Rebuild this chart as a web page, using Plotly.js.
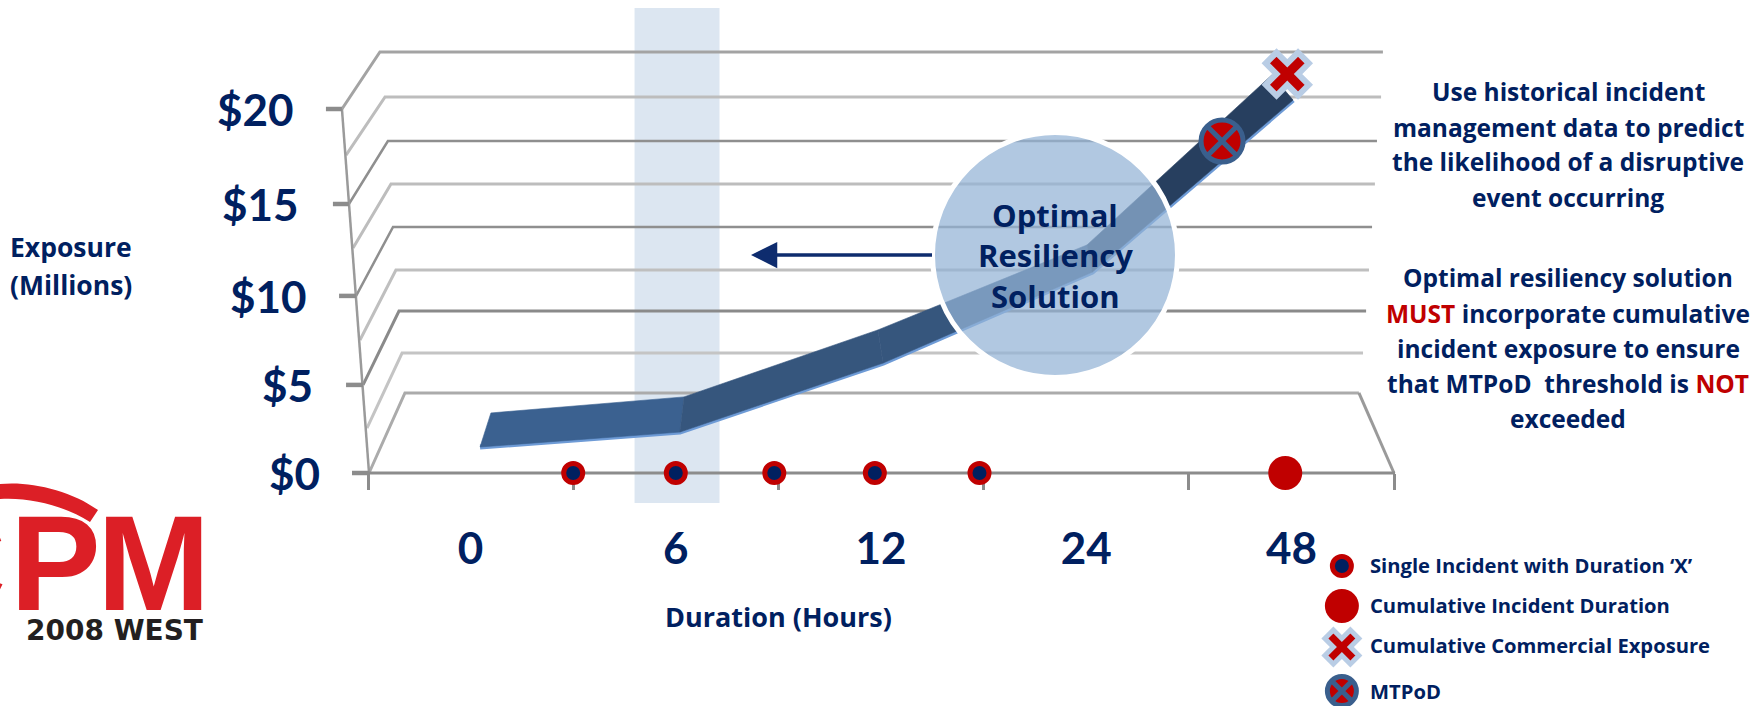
<!DOCTYPE html>
<html>
<head>
<meta charset="utf-8">
<script src="https://cdn.plot.ly/plotly-3.0.1.min.js"></script>
<style>html,body{margin:0;padding:0;background:#fff;overflow:hidden}#chart{width:1757px;height:706px}</style>
</head>
<body>
<div id="chart"></div>
<script>
// Duration axis (evenly spaced categories) and exposure axis
const durationLabels = ['0', '6', '12', '24', '48'];
const durationSlots = [0, 1, 2, 3, 4];
const slotEdges = [-0.5, 0.5, 1.5, 2.5, 3.5, 4.5];
const exposureLabels = ['$0', '$5', '$10', '$15', '$20'];
const exposureLevels = [0, 4.84, 9.73, 14.78, 20];

// Pseudo-3D wall: nine levels running front -> back left -> back right
const wallFrontX = [-0.627, -0.607, -0.593, -0.573, -0.558, -0.539, -0.524, -0.505, -0.495];
const wallFrontY = [20, 17.47, 14.78, 12.36, 9.73, 7.31, 4.84, 2.47, 0];
const wallBackLeftX = [-0.442, -0.417, -0.403, -0.388, -0.378, -0.364, -0.349, -0.334, -0.320];
const wallBackRightX = [4.446, 4.437, 4.417, 4.407, 4.393, 4.378, 4.364, 4.349, 4.329];
const wallBackY = [23.13, 20.66, 18.24, 15.88, 13.52, 11.15, 8.90, 6.59, 4.40];
const exposureTickStartX = [-0.578, -0.607, -0.641, -0.671, -0.705];
const exposureTickEndX = [-0.495, -0.524, -0.558, -0.593, -0.627];

// Exposure ribbon: near and far edges
const ribbonNearX = [0.046, 1.02, 2.01, 3.03, 4.008];
const ribbonNearY = [1.43, 2.25, 6.04, 11.04, 20.49];
const ribbonFarX = [0.099, 1.04, 1.985, 3.004, 3.905];
const ribbonFarY = [3.30, 4.18, 7.86, 12.53, 21.87];

// Point markers
const singleIncidentX = [0.5, 1, 1.48, 1.97, 2.48];
const singleIncidentY = [0, 0, 0, 0, 0];
const cumulativeDurationX = [3.97];
const cumulativeDurationY = [0];
const commercialExposureX = [3.98];
const commercialExposureY = [21.92];
const mtpodX = [3.662];
const mtpodY = [18.24];

// Highlighted duration window
const windowStart = 0.799;
const windowEnd = 1.213;

const legendLabels = ['Single Incident with Duration ‘X’', 'Cumulative Incident Duration', 'Cumulative Commercial Exposure', 'MTPoD'];
const RED = '#C00000';
const rightNotes = [
  ['Use historical incident', 91],
  ['management data to predict', 127],
  ['the likelihood of a disruptive', 162],
  ['event occurring', 198],
  ['Optimal resiliency solution', 278],
  ['<span style="color:' + RED + '">MUST</span> incorporate cumulative', 313],
  ['incident exposure to ensure', 348],
  ['that MTPoD  threshold is <span style="color:' + RED + '">NOT</span>', 383],
  ['exceeded', 418]
];

const W = 1757, H = 706, NAVY = '#002060';
const AXIS_PX = 473, PX_PER_UNIT = 18.2;
const px = v => v / W;
const py = v => 1 - v / H;
const font = (size, color, weight) => ({family: '"Open Sans", sans-serif', size, color, weight});
const digitFont = (size) => ({family: 'Lato, sans-serif', size, color: NAVY, weight: 700});
const label = (text, x, y, f, xanchor) => ({text, x: px(x), y: py(y), xref: 'paper', yref: 'paper', showarrow: false, xanchor: xanchor || 'center', yanchor: 'middle', font: f});
const seg = (x, y, color, width) => ({x, y, mode: 'lines', line: {color, width}, hoverinfo: 'skip', showlegend: false, cliponaxis: false});

const traces = [];

// wall lines, alternating dark and light
const wallColors = ['#A3A3A3', '#BDBDBD', '#8F8F8F', '#BDBDBD', '#8F8F8F', '#BFBFBF', '#8A8A8A', '#C4C4C4', '#ABABAB'];
const wallWidths = [3, 3, 2.5, 3, 2.5, 3, 3, 3, 3];
wallFrontX.forEach((fx, i) => {
  traces.push(seg([fx, wallBackLeftX[i], wallBackRightX[i]], [wallFrontY[i], wallBackY[i], wallBackY[i]], wallColors[i], wallWidths[i]));
});
traces.push(seg([wallFrontX[0], wallFrontX[8]], [wallFrontY[0], wallFrontY[8]], '#9A9A9A', 2.5));
traces.push(seg([wallBackRightX[8], 4.5], [wallBackY[8], 0], '#9A9A9A', 3));
traces.push(seg([-0.578, 4.505], [0, 0], '#8C8C8C', 3));
exposureLevels.forEach((_, i) => {
  traces.push(seg([exposureTickStartX[i], exposureTickEndX[i]], [exposureLevels[i], exposureLevels[i]], '#8C8C8C', 4.5));
});

// ribbon: lit underside, then one face per segment
traces.push(seg(ribbonNearX, ribbonNearY, '#6E9BD6', 5));
const faceColors = ['#3B6190', '#36567D', '#36567D', '#273F5F'];
faceColors.forEach((color, i) => {
  traces.push({
    x: [ribbonNearX[i], ribbonNearX[i + 1], ribbonFarX[i + 1], ribbonFarX[i], ribbonNearX[i]],
    y: [ribbonNearY[i], ribbonNearY[i + 1], ribbonFarY[i + 1], ribbonFarY[i], ribbonNearY[i]],
    mode: 'lines', fill: 'toself', fillcolor: color, line: {color, width: 0.6}, hoverinfo: 'skip', showlegend: false, cliponaxis: false
  });
});

const markerStyles = {
  single: {symbol: 'circle', size: 19, color: NAVY, line: {color: RED, width: 5}},
  duration: {symbol: 'circle', size: 34, color: RED, line: {width: 0}},
  exposure: {symbol: 'x', size: 38, color: RED, line: {color: '#B9CDE5', width: 6}},
  mtpod: {symbol: 'circle-x', size: 42, color: RED, line: {color: '#3A5F8D', width: 5}}
};
const points = (x, y, marker) => ({x, y, mode: 'markers', marker, hoverinfo: 'skip', showlegend: false, cliponaxis: false});
traces.push(points(singleIncidentX, singleIncidentY, markerStyles.single));
traces.push(points(cumulativeDurationX, cumulativeDurationY, markerStyles.duration));
traces.push(points(commercialExposureX, commercialExposureY, markerStyles.exposure));
traces.push(points(mtpodX, mtpodY, markerStyles.mtpod));

// key markers, placed below the axis
const keyX = [4.246];
traces.push(points(keyX, [-5.11], markerStyles.single));
traces.push(points(keyX, [-7.31], markerStyles.duration));
traces.push(points(keyX, [-9.56], Object.assign({}, markerStyles.exposure, {size: 30, line: {color: '#B9CDE5', width: 5}})));
traces.push(points(keyX, [-11.98], Object.assign({}, markerStyles.mtpod, {size: 29, line: {color: '#3A5F8D', width: 5}})));

const annotations = [];
exposureLabels.forEach((t, i) => {
  const right = [322, 315, 309, 301, 296][i];
  annotations.push({text: t, x: px(right), y: exposureLevels[i], xref: 'paper', yref: 'y', showarrow: false, xanchor: 'right', yanchor: 'middle', font: digitFont(44)});
});
annotations.push(label('Duration (Hours)', 778, 616, font(27, NAVY, 700)));
annotations.push(label('Exposure', 8, 247, font(26.5, NAVY, 700), 'left'));
annotations.push(label('(Millions)', 8, 285, font(26.5, NAVY, 700), 'left'));
rightNotes.forEach(([t, y]) => annotations.push(label(t, 1568, y, font(24.5, NAVY, 700))));
legendLabels.forEach((t, i) => annotations.push(label(t, 1368, [565, 605, 645, 691][i], font(20.2, NAVY, 700), 'left')));

// callout text and arrow
['Optimal', 'Resiliency', 'Solution'].forEach((t, i) => annotations.push(label(t, 1055, [215, 255, 296][i], font(31, NAVY, 700))));
annotations.push({text: ' ', x: px(751), y: py(255), xref: 'paper', yref: 'paper', ax: 184, ay: 0, axref: 'pixel', ayref: 'pixel', showarrow: true, arrowhead: 2, arrowsize: 1.5, arrowwidth: 3.5, arrowcolor: '#0E2C6E', standoff: 0});

// conference logo
const logoFont = {family: '"Liberation Sans", sans-serif', size: 136, color: '#DC1F26', weight: 700};
annotations.push(label('C', 8, 563, logoFont, 'right'));
annotations.push(label('P', 8, 563, Object.assign({}, logoFont, {family: '"Liberation Sans Narrow", "Liberation Sans", sans-serif'}), 'left'));
annotations.push(label('M', 212, 563, logoFont, 'right'));
annotations.push(label('2008 WEST', 205, 630, {family: '"DejaVu Sans", sans-serif', size: 28, color: '#231F20', weight: 700}, 'right'));

const p = (x, y) => px(x) + ',' + py(y);
const shapes = [
  {type: 'rect', layer: 'below', xref: 'x', yref: 'paper', x0: windowStart, x1: windowEnd, y0: py(503), y1: py(8), fillcolor: '#DCE6F1', line: {width: 0}},
  {type: 'circle', layer: 'above', xref: 'paper', yref: 'paper', x0: px(932.5), x1: px(1177.5), y0: py(377.5), y1: py(132.5), fillcolor: 'rgba(147,179,213,0.72)', line: {color: '#FFFFFF', width: 5}},
  {type: 'path', layer: 'above', xref: 'paper', yref: 'paper', fillcolor: '#DC1F26', line: {width: 0},
   path: 'M' + p(0, 484) + ' C' + p(30, 481) + ' ' + p(70, 490) + ' ' + p(98, 510) + ' L' + p(90, 522) + ' C' + p(65, 506) + ' ' + p(30, 497) + ' ' + p(0, 499) + ' Z'}
];

const layout = {
  width: W, height: H, margin: {l: 0, r: 0, t: 0, b: 0, pad: 0},
  paper_bgcolor: '#FFFFFF', plot_bgcolor: 'rgba(0,0,0,0)', showlegend: false,
  xaxis: {
    range: [-2.2934, 6.2690], domain: [0, 1], anchor: 'free', position: (H - AXIS_PX) / H,
    showgrid: false, zeroline: false, showline: false, layer: 'below traces',
    tickmode: 'array', tickvals: durationSlots, ticktext: durationLabels, ticks: '', ticklabelstandoff: 46,
    tickfont: digitFont(44),
    minor: {tickmode: 'array', tickvals: slotEdges, ticks: 'outside', ticklen: 16, tickwidth: 3, tickcolor: '#8C8C8C', showgrid: false}
  },
  yaxis: {
    range: [(AXIS_PX - H) / PX_PER_UNIT, AXIS_PX / PX_PER_UNIT], domain: [0, 1], visible: false, showgrid: false, zeroline: false
  },
  shapes, annotations
};

Plotly.newPlot('chart', traces, layout, {displayModeBar: false, staticPlot: true});
</script>
</body>
</html>
